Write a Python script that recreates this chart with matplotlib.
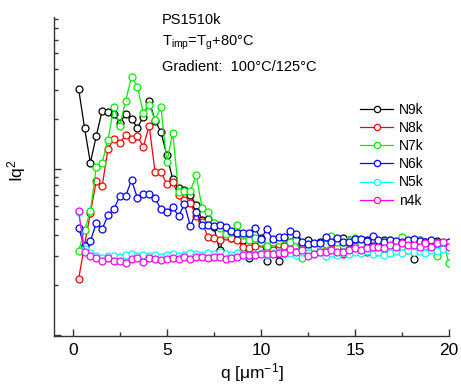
import numpy as np
import matplotlib
matplotlib.use("Agg")
import matplotlib.pyplot as plt
from matplotlib.ticker import LogLocator, NullFormatter, MultipleLocator

plt.rcParams['font.family'] = ['Liberation Sans', 'DejaVu Sans']
plt.rcParams['mathtext.default'] = 'regular'

# q grid [um^-1]
q = np.round(np.arange(1, 65) * 0.3125, 4)

N9k = [3.03, 1.77, 1.09, 1.58, 2.24, 2.19, 2.14, 1.89, 2.14, 2.00, 1.77, 2.06, 2.57, 1.95, 1.67, 1.21,
       0.870, 0.768, 0.747, 0.697, 0.607, 0.493, 0.500, 0.447, 0.325, 0.429, 0.384, 0.395, 0.374, 0.291,
       0.363, 0.384, 0.279, 0.353, 0.279, 0.374, 0.363, 0.384, 0.353, 0.374, 0.344, 0.363, 0.374, 0.384,
       0.358, 0.384, 0.374, 0.353, 0.363, 0.374, 0.344, 0.353, 0.374, 0.363, 0.349, 0.358, 0.353, 0.287,
       0.374, 0.363, 0.334, 0.368, 0.358, 0.353]
N8k = [0.218, 0.349, 0.543, 0.847, 0.790, 1.32, 1.52, 1.43, 1.60, 1.52, 1.58, 1.36, 1.82, 0.959, 0.959,
       0.812, 0.835, 0.697, 0.650, 0.624, 0.521, 0.479, 0.389, 0.384, 0.374, 0.395, 0.384, 0.374, 0.339,
       0.334, 0.344, 0.358, 0.334, 0.325, 0.353, 0.344, 0.325, 0.316, 0.334, 0.307, 0.325, 0.334, 0.316,
       0.325, 0.339, 0.307, 0.330, 0.344, 0.334, 0.316, 0.325, 0.339, 0.349, 0.334, 0.353, 0.339, 0.325,
       0.344, 0.353, 0.363, 0.349, 0.358, 0.344, 0.353]
N7k = [0.321, 0.429, 0.558, 1.03, 1.09, 1.50, 2.36, 1.82, 2.57, 3.58, 3.12, 2.17, 2.43, 1.97, 2.36, 1.10,
       1.65, 0.727, 0.737, 0.737, 0.920, 0.582, 0.551, 0.473, 0.441, 0.406, 0.417, 0.460, 0.400, 0.374,
       0.384, 0.363, 0.344, 0.363, 0.374, 0.384, 0.363, 0.374, 0.291, 0.325, 0.334, 0.344, 0.353, 0.395,
       0.363, 0.349, 0.374, 0.384, 0.353, 0.344, 0.334, 0.353, 0.344, 0.374, 0.325, 0.389, 0.339, 0.353,
       0.374, 0.344, 0.358, 0.299, 0.363, 0.271]
N6k = [0.441, 0.344, 0.368, 0.473, 0.435, 0.528, 0.574, 0.687, 0.687, 0.859, 0.668, 0.707, 0.707, 0.668,
       0.574, 0.551, 0.590, 0.521, 0.615, 0.453, 0.551, 0.460, 0.460, 0.453, 0.460, 0.447, 0.423, 0.412,
       0.412, 0.412, 0.441, 0.379, 0.435, 0.379, 0.389, 0.389, 0.423, 0.406, 0.363, 0.353, 0.358, 0.358,
       0.389, 0.363, 0.384, 0.363, 0.363, 0.379, 0.379, 0.368, 0.395, 0.374, 0.363, 0.374, 0.368, 0.363,
       0.374, 0.379, 0.368, 0.363, 0.374, 0.358, 0.358, 0.363]
N5k = [0.551, 0.330, 0.312, 0.299, 0.291, 0.299, 0.299, 0.295, 0.303, 0.307, 0.299, 0.303, 0.299, 0.303,
       0.295, 0.303, 0.307, 0.299, 0.303, 0.312, 0.307, 0.303, 0.312, 0.307, 0.316, 0.307, 0.303, 0.312,
       0.307, 0.299, 0.307, 0.312, 0.303, 0.312, 0.316, 0.307, 0.312, 0.303, 0.316, 0.312, 0.307, 0.316,
       0.299, 0.312, 0.303, 0.316, 0.307, 0.316, 0.312, 0.321, 0.307, 0.316, 0.303, 0.312, 0.321, 0.312,
       0.325, 0.316, 0.321, 0.312, 0.325, 0.321, 0.330, 0.325]
n4k = [0.558, 0.316, 0.299, 0.291, 0.279, 0.291, 0.279, 0.279, 0.271, 0.287, 0.291, 0.275, 0.291, 0.287,
       0.283, 0.287, 0.291, 0.287, 0.295, 0.287, 0.295, 0.295, 0.291, 0.295, 0.295, 0.287, 0.291, 0.295,
       0.303, 0.303, 0.303, 0.307, 0.307, 0.307, 0.312, 0.312, 0.330, 0.316, 0.325, 0.299, 0.307, 0.316,
       0.316, 0.325, 0.316, 0.316, 0.325, 0.334, 0.325, 0.334, 0.339, 0.339, 0.334, 0.349, 0.339, 0.358,
       0.349, 0.349, 0.339, 0.358, 0.339, 0.358, 0.363, 0.339]

series = [("N9k", N9k, "#000000"), ("N8k", N8k, "#ff0000"), ("N7k", N7k, "#00ee00"),
          ("N6k", N6k, "#0000ff"), ("N5k", N5k, "#00ffff"), ("n4k", n4k, "#ff00ff")]

fig = plt.figure(figsize=(4.61, 3.85), dpi=100)
ax = fig.add_axes([0.117, 0.127, 0.857, 0.829])

for name, vals, col in series:
    ax.plot(q, vals, color=col, lw=0.9, marker='o', ms=5, mfc='white', mec=col, mew=0.9, label=name)

ax.set_yscale('log')
ax.set_xlim(-1, 20)
ax.set_ylim(0.099, 8.2)
ax.xaxis.set_major_locator(MultipleLocator(5))
ax.xaxis.set_minor_locator(MultipleLocator(2.5))
ax.yaxis.set_major_locator(LogLocator(base=10))
ax.yaxis.set_minor_locator(LogLocator(base=10, subs=np.arange(2, 10)))
ax.yaxis.set_major_formatter(NullFormatter())
ax.yaxis.set_minor_formatter(NullFormatter())
ax.tick_params(which='both', direction='in', width=1.0, color='#333333')
ax.tick_params(which='major', length=5)
ax.tick_params(which='minor', length=3)
ax.tick_params(axis='x', labelsize=12.5, pad=5)
for s in ['top', 'right']:
    ax.spines[s].set_visible(False)
for s in ['left', 'bottom']:
    ax.spines[s].set_linewidth(1.0)
    ax.spines[s].set_color('#333333')

ax.set_xlabel('q [μm$^{-1}$]', fontsize=12.5, labelpad=2.5)
ax.set_ylabel('Iq$^2$', fontsize=12.5)
ax.yaxis.set_label_coords(-0.066, 0.52)

fig.text(0.351, 0.938, 'PS1510k', fontsize=10.5, va='baseline')
fig.text(0.351, 0.881, 'T$_{imp}$=T$_{g}$+80°C', fontsize=10.5, va='baseline')
fig.text(0.351, 0.816, 'Gradient:  100°C/125°C', fontsize=10.5, va='baseline')

leg = ax.legend(loc='upper left', bbox_to_anchor=(0.781, 0.733), bbox_transform=fig.transFigure,
                frameon=False, fontsize=10, handlelength=2.4, handletextpad=0.4,
                labelspacing=0.3, borderpad=0, borderaxespad=0, markerscale=0.9)

fig.savefig('out.png', dpi=100)
